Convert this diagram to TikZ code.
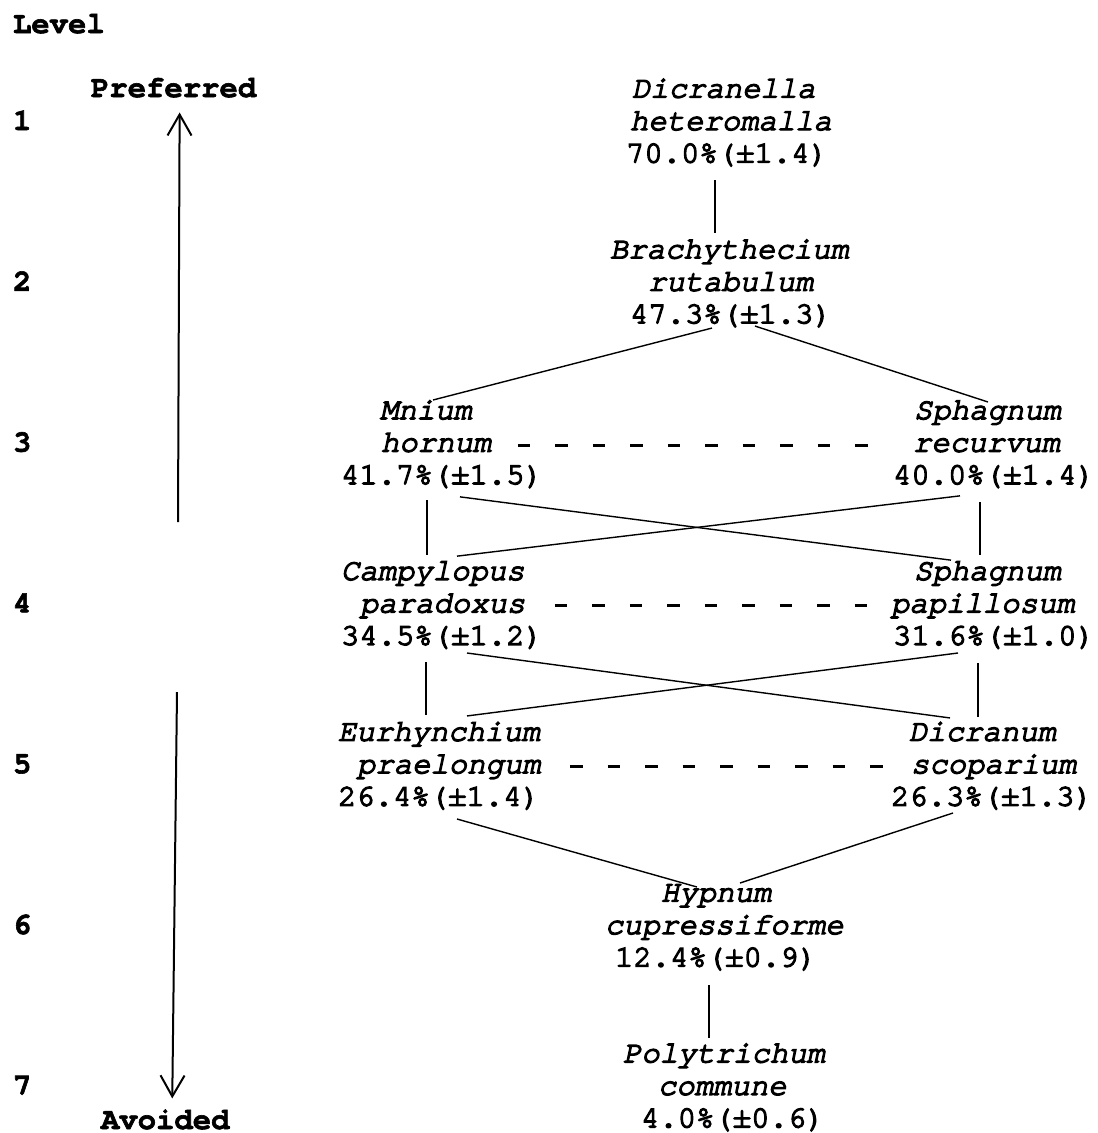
\documentclass[tikz,border=0pt]{standalone}
\usepackage{fontspec}
\newfontfamily\cour{texgyrecursor}[Extension=.otf,
  UprightFont=*-regular, BoldFont=*-bold,
  ItalicFont=*-italic, BoldItalicFont=*-bolditalic,
  UprightFeatures={FakeBold=4.5}, ItalicFeatures={FakeBold=4.5},
  BoldFeatures={FakeBold=2}]
\usetikzlibrary{arrows.meta}
\tikzset{
  sp/.style={inner sep=0pt, outer sep=0pt, anchor=west, align=left,
    font=\cour\fontsize{30.6}{32.5}\selectfont},
  lab/.style={inner sep=0pt, outer sep=0pt, anchor=base west,
    font=\cour\bfseries\fontsize{30.6}{32.5}\selectfont},
  link/.style={line width=1.4pt},
  vlink/.style={line width=2.3pt},
  dlink/.style={line width=3pt, dash pattern=on 12.5pt off 25pt},
  axisarrow/.style={line width=2pt, -{Straight Barb[length=21pt,width=24pt,line width=2pt]}}
}
\begin{document}
\begin{tikzpicture}[x=1pt,y=-1pt]
\useasboundingbox (0,0) rectangle (1098,1133);
\fill[white] (0,0) rectangle (1098,1133);

% labels
\node[lab] (level) at (13,33) {Level};
\node[lab] (n1) at (13,130) {1};
\node[lab] (n2) at (13,290.8) {2};
\node[lab] (n3) at (13,451.6) {3};
\node[lab] (n4) at (13,612.4) {4};
\node[lab] (n5) at (13,773.2) {5};
\node[lab] (n6) at (13,934) {6};
\node[lab] (n7) at (13,1094.8) {7};
\node[lab] (pref) at (91,97) {Preferred};
\node[lab] (avoid) at (101,1129) {Avoided};

% species
\node[sp] (d1) at (626,123.5) {\hspace*{6pt}\textit{Dicranella}\strut\\\hspace*{4pt}\textit{heteromalla}\strut\\70.0\%(±1.4)\strut};
\node[sp] (b2) at (610,284.3) {\textit{Brachythecium}\strut\\\hspace*{38pt}\textit{rutabulum}\strut\\\hspace*{20pt}47.3\%(±1.3)\strut};
\node[sp] (m3) at (341,445.1) {\hspace*{39pt}\textit{Mnium}\strut\\\hspace*{40pt}\textit{hornum}\strut\\41.7\%(±1.5)\strut};
\node[sp] (s3) at (893,445.1) {\hspace*{21pt}\textit{Sphagnum}\strut\\\hspace*{20pt}\textit{recurvum}\strut\\40.0\%(±1.4)\strut};
\node[sp] (c4) at (341,605.9) {\textit{Campylopus}\strut\\\hspace*{19pt}\textit{paradoxus}\strut\\34.5\%(±1.2)\strut};
\node[sp] (p4) at (891,605.9) {\hspace*{23pt}\textit{Sphagnum}\strut\\\textit{papillosum}\strut\\\hspace*{2pt}31.6\%(±1.0)\strut};
\node[sp] (e5) at (338,766.7) {\textit{Eurhynchium}\strut\\\hspace*{19pt}\textit{praelongum}\strut\\26.4\%(±1.4)\strut};
\node[sp] (d5) at (891,766.7) {\hspace*{18pt}\textit{Dicranum}\strut\\\hspace*{20pt}\textit{scoparium}\strut\\26.3\%(±1.3)\strut};
\node[sp] (h6) at (605,927.5) {\hspace*{56pt}\textit{Hypnum}\strut\\\textit{cupressiforme}\strut\\\hspace*{10pt}12.4\%(±0.9)\strut};
\node[sp] (p7) at (623,1088.3) {\textit{Polytrichum}\strut\\\hspace*{35pt}\textit{commune}\strut\\\hspace*{18pt}4.0\%(±0.6)\strut};

% axis arrows
\coordinate (upstart) at (178,522);
\draw[axisarrow] (upstart) -- ([shift={(6,15)}]pref.south);
\coordinate (downstart) at (177,692);
\draw[axisarrow] (downstart) -- ([shift={(7,-11)}]avoid.north);

% connectors
\draw[vlink] ([shift={(89,7.75)}]d1.south west) -- ([shift={(105,-2.55)}]b2.north west);
\draw[link] ([shift={(102,-5)}]b2.south west) -- ([shift={(92,3.65)}]m3.north west);
\draw[link] ([shift={(145,-7)}]b2.south west) -- ([shift={(95,5.65)}]s3.north west);
\draw[vlink] ([shift={(86,6.15)}]m3.south west) -- ([shift={(86,-2.15)}]c4.north west);
\draw[vlink] ([shift={(87,8)}]s3.south west) -- ([shift={(89,-2)}]p4.north west);
\draw[link] ([shift={(119,3)}]m3.south west) -- ([shift={(60,3)}]p4.north west);
\draw[link] ([shift={(67,2)}]s3.south west) -- ([shift={(116,-1)}]c4.north west);
\draw[vlink] ([shift={(85,7.35)}]c4.south west) -- ([shift={(88,-3)}]e5.north west);
\draw[vlink] ([shift={(87,8.35)}]p4.south west) -- ([shift={(87,-1)}]d5.north west);
\draw[link] ([shift={(126,-1.65)}]c4.south west) -- ([shift={(59,0)}]d5.north west);
\draw[link] ([shift={(67,-1.65)}]p4.south west) -- ([shift={(129,-2)}]e5.north west);
\draw[link] ([shift={(119,3.55)}]e5.south west) -- ([shift={(92,8.25)}]h6.north west);
\draw[link] ([shift={(62,-2.45)}]d5.south west) -- ([shift={(135,4.25)}]h6.north west);
\draw[vlink] ([shift={(104,8.75)}]h6.south west) -- ([shift={(86,-1.55)}]p7.north west);

% dashed equal-rank links
\draw[dlink] ([shift={(-25,0)}]m3.east) -- ([shift={(-25,0)}]s3.west);
\draw[dlink] ([shift={(12,0)}]c4.east) -- ([shift={(-23,0)}]p4.west);
\draw[dlink] ([shift={(29.4,0)}]e5.east) -- ([shift={(-8.5,0)}]d5.west);
\end{tikzpicture}
\end{document}
